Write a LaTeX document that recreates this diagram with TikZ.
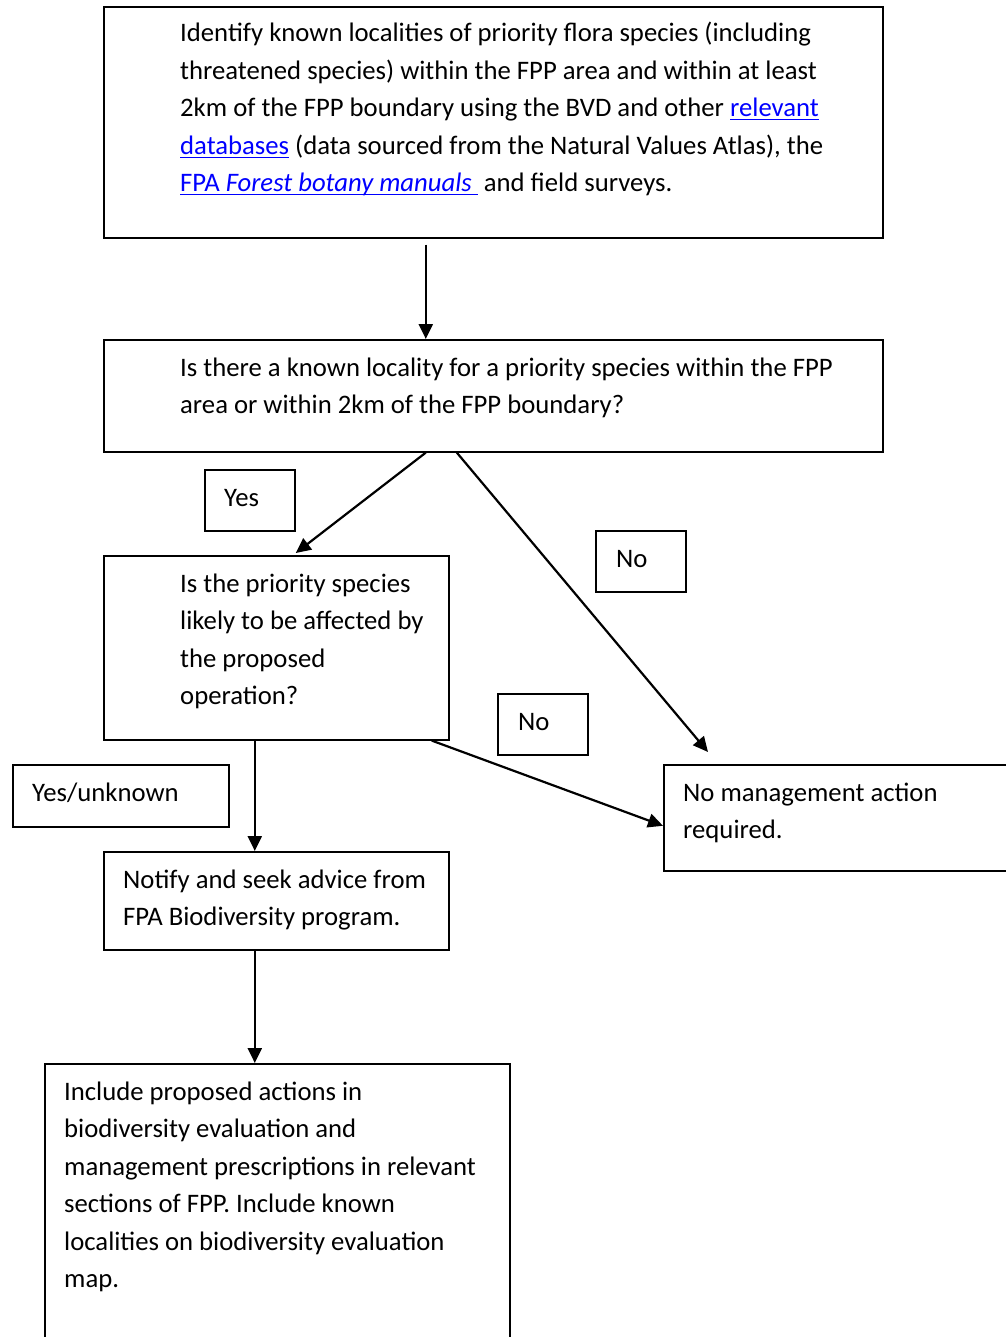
\documentclass[tikz,border=0pt]{standalone}
\usepackage{fontspec}
\setmainfont{Carlito}
\usepackage{tikz}
\usetikzlibrary{positioning,arrows.meta,calc}
\definecolor{linkblue}{RGB}{0,0,255}
\newcommand{\lnk}[1]{\textcolor{linkblue}{\setbox0\hbox{#1}\rlap{\rule[-3.5pt]{\wd0}{1.4pt}}\box0}}
\tikzset{
  flowarrow/.style={-{Triangle[length=15pt,width=14pt]}, line width=2.2pt},
  flowbox/.style={draw, line width=1.6pt, anchor=north west, inner sep=0pt},
  tagbox/.style={draw, line width=1.6pt, anchor=north west, inner sep=0pt, minimum width=90pt, minimum height=61pt},
  flowtext/.style={anchor=base west, align=flush left, inner sep=0pt, text width=760pt, font=\fontsize{26.7}{37.5}\selectfont}
}

\begin{document}
\begin{tikzpicture}[x=1pt, y=-1pt]
  \useasboundingbox (0,0) rectangle (1005,1337);
  % boxes
  \node[flowbox, minimum width=779pt, minimum height=231pt] (find) at (103,6) {};
  \node[flowbox, minimum width=779pt, minimum height=112pt] (known) at (103,339) {};
  \node[flowbox, minimum width=345pt, minimum height=184pt] (affect) at (103,555) {};
  \node[flowbox, minimum width=357pt, minimum height=106pt] (noact) at (663,764) {};
  \node[flowbox, minimum width=345pt, minimum height=98pt] (notify) at (103,851) {};
  \node[flowbox, minimum width=465pt, minimum height=290pt] (incl) at (44,1063) {};
  % answer tags
  \node[tagbox] (yes) at (204,469) {};
  \node[tagbox] (noA) at (595,530) {};
  \node[tagbox] (noB) at (497,693) {};
  \node[tagbox, minimum width=216pt, minimum height=62pt] (yesunk) at (12,764) {};
  % texts
  \node[flowtext] (findtxt) at (180,42) {Identify known localities of priority flora species (including\\
    threatened species) within the FPP area and within at least\\
    2km of the FPP boundary using the BVD and other \lnk{relevant}\\
    \lnk{databases} (data sourced from the Natural Values Atlas), the\\
    \lnk{FPA \textit{Forest botany manuals}\hspace{6pt}} and field surveys.};
  \node[flowtext] (knowntxt) at (180,376) {Is there a known locality for a priority species within the FPP\\
    area or within 2km of the FPP boundary?};
  \node[flowtext] (affecttxt) at (180,592) {Is the priority species\\likely to be affected by\\the proposed\\operation?};
  \node[flowtext] (noacttxt) at (683,801) {No management action\\required.};
  \node[flowtext] (notifytxt) at (123,888) {Notify and seek advice from\\FPA Biodiversity program.};
  \node[flowtext] (incltxt) at (64,1100) {Include proposed actions in\\biodiversity evaluation and\\
    management prescriptions in relevant\\sections of FPP. Include known\\
    localities on biodiversity evaluation\\map.};
  \node[flowtext] (yestxt) at (224,506) {Yes};
  \node[flowtext] (noAtxt) at (616,567) {No};
  \node[flowtext] (noBtxt) at (518,730) {No};
  \node[flowtext] (yesunktxt) at (32,801) {Yes/unknown};
  % connectors
  \draw[flowarrow, shorten <=6pt] ([xshift=-67.5pt]find.south) -- ([xshift=-67.5pt]known.north);
  \draw[flowarrow] ([xshift=-67.5pt]known.south) -- ([xshift=19.5pt,yshift=2pt]affect.north);
  \draw[flowarrow] ([xshift=-36.5pt]known.south) -- ([xshift=45pt,yshift=12pt]noact.north west);
  \draw[flowarrow] ([xshift=-21.5pt]affect.south) -- ([xshift=-21.5pt]notify.north);
  \draw[flowarrow] ([xshift=155.5pt]affect.south) -- ([yshift=-8pt]noact.west);
  \draw[flowarrow] ([xshift=-21.5pt]notify.south) -- ([xshift=-22.5pt]incl.north);
\end{tikzpicture}
\end{document}
